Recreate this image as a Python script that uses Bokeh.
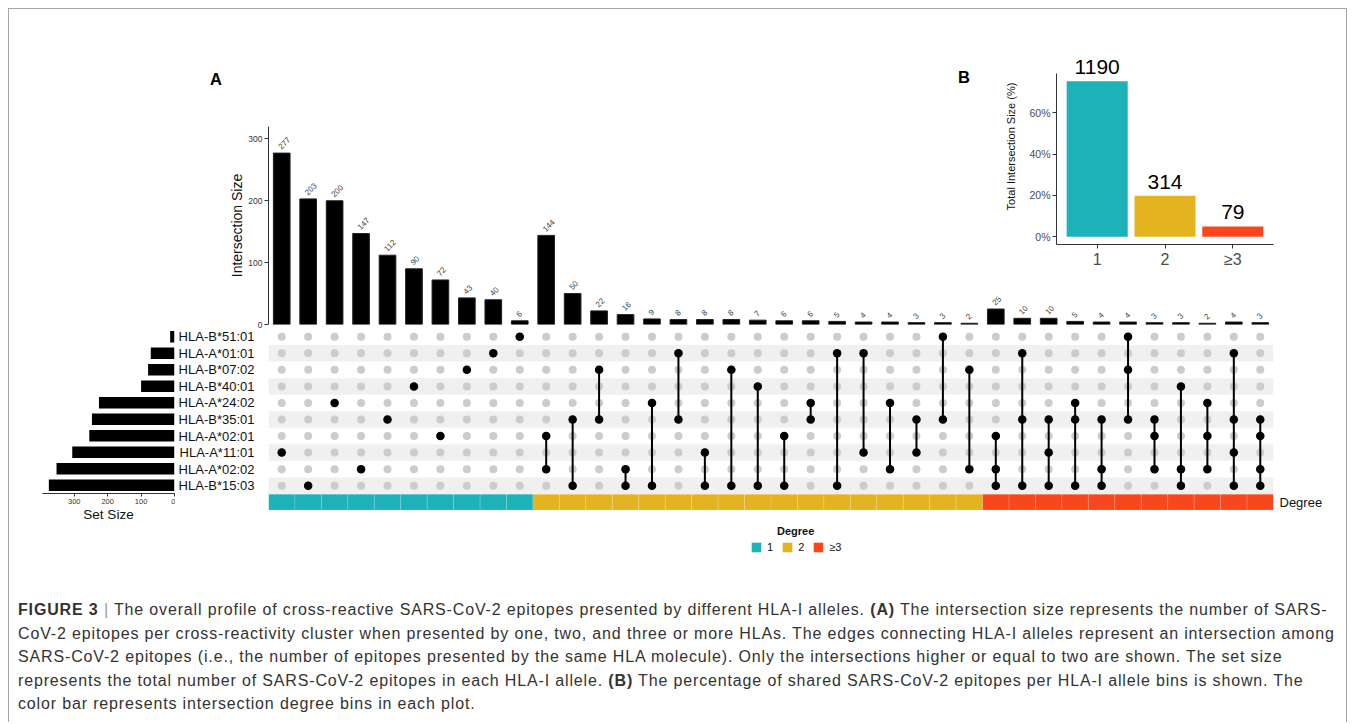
from bokeh.plotting import figure
from bokeh.models import (Range1d, FixedTicker, LinearAxis, LabelSet, ColumnDataSource,
                          Div, Legend, LegendItem, PrintfTickFormatter)
from bokeh.core.properties import value
from bokeh.embed import file_html
from bokeh.resources import INLINE

FONT = "Liberation Sans"

# ---------------- data ----------------
sets = ["HLA-B*51:01", "HLA-A*01:01", "HLA-B*07:02", "HLA-B*40:01", "HLA-A*24:02",
        "HLA-B*35:01", "HLA-A*02:01", "HLA-A*11:01", "HLA-A*02:02", "HLA-B*15:03"]
set_sizes = [13, 71, 79, 100, 226, 247, 255, 306, 353, 376]

intersection_sizes = [277, 203, 200, 147, 112, 90, 72, 43, 40, 6,
                      144, 50, 22, 16, 9, 8, 8, 8, 7, 6, 6, 5, 4, 4, 3, 3, 2,
                      25, 10, 10, 5, 4, 4, 3, 3, 2, 4, 3]
intersection_members = [
    ["HLA-A*11:01"], ["HLA-B*15:03"], ["HLA-A*24:02"], ["HLA-A*02:02"], ["HLA-B*35:01"],
    ["HLA-B*40:01"], ["HLA-A*02:01"], ["HLA-B*07:02"], ["HLA-A*01:01"], ["HLA-B*51:01"],
    ["HLA-A*02:01", "HLA-A*02:02"],
    ["HLA-B*35:01", "HLA-B*15:03"],
    ["HLA-B*07:02", "HLA-B*35:01"],
    ["HLA-A*02:02", "HLA-B*15:03"],
    ["HLA-A*24:02", "HLA-B*15:03"],
    ["HLA-A*01:01", "HLA-B*35:01"],
    ["HLA-A*11:01", "HLA-B*15:03"],
    ["HLA-B*07:02", "HLA-B*15:03"],
    ["HLA-B*40:01", "HLA-B*15:03"],
    ["HLA-A*02:01", "HLA-B*15:03"],
    ["HLA-A*24:02", "HLA-B*35:01"],
    ["HLA-A*01:01", "HLA-B*15:03"],
    ["HLA-A*01:01", "HLA-A*11:01"],
    ["HLA-A*24:02", "HLA-A*02:02"],
    ["HLA-B*35:01", "HLA-A*11:01"],
    ["HLA-B*51:01", "HLA-B*35:01"],
    ["HLA-B*07:02", "HLA-A*02:02"],
    ["HLA-A*02:01", "HLA-A*02:02", "HLA-B*15:03"],
    ["HLA-A*01:01", "HLA-B*35:01", "HLA-B*15:03"],
    ["HLA-B*35:01", "HLA-A*11:01", "HLA-B*15:03"],
    ["HLA-A*24:02", "HLA-B*35:01", "HLA-B*15:03"],
    ["HLA-B*35:01", "HLA-A*02:02", "HLA-B*15:03"],
    ["HLA-B*51:01", "HLA-B*07:02", "HLA-B*35:01"],
    ["HLA-B*35:01", "HLA-A*02:01", "HLA-A*02:02"],
    ["HLA-B*40:01", "HLA-A*02:02", "HLA-B*15:03"],
    ["HLA-A*24:02", "HLA-A*02:01", "HLA-A*02:02"],
    ["HLA-A*01:01", "HLA-B*35:01", "HLA-A*11:01", "HLA-B*15:03"],
    ["HLA-B*35:01", "HLA-A*02:01", "HLA-A*02:02", "HLA-B*15:03"],
]
degree_bins = ["1", "2", "≥3"]
degree_totals = [1190, 314, 79]
degree_colors = ["#1DB1B8", "#E3B41F", "#F8471C"]

caption_lines = [
    "<b>FIGURE 3</b> <span style='color:#9a9a9a'>|</span> The overall profile of cross-reactive SARS-CoV-2 epitopes presented by different HLA-I alleles. <b>(A)</b> The intersection size represents the number of SARS-",
    "CoV-2 epitopes per cross-reactivity cluster when presented by one, two, and three or more HLAs. The edges connecting HLA-I alleles represent an intersection among",
    "SARS-CoV-2 epitopes (i.e., the number of epitopes presented by the same HLA molecule). Only the intersections higher or equal to two are shown. The set size",
    "represents the total number of SARS-CoV-2 epitopes in each HLA-I allele. <b>(B)</b> The percentage of shared SARS-CoV-2 epitopes per HLA-I allele bins is shown. The",
    "color bar represents intersection degree bins in each plot.",
]

# ---------------- derived ----------------
n = len(intersection_sizes)
xs = list(range(1, n + 1))
row_pos = [-i for i in range(len(sets))]
row_of = dict(zip(sets, row_pos))
deg_idx = [min(len(m), 3) - 1 for m in intersection_members]
col_colors = [degree_colors[d] for d in deg_idx]


def place(model, x, y, extra=None):
    st = {"position": "absolute", "left": f"{x}px", "top": f"{y}px"}
    if extra:
        st.update(extra)
    model.styles = st
    model.margin = 0
    return model


def bare(p):
    p.xgrid.visible = False
    p.ygrid.visible = False
    p.outline_line_color = None
    p.background_fill_color = None
    p.border_fill_color = None


# ---------------- frame border ----------------
border = place(Div(text="", width=1339, height=714), 8, 8,
               {"border": "1px solid #a6a6a6", "border-bottom": "none", "box-sizing": "border-box"})

# ---------------- intersection size bars ----------------
x_range = Range1d(0.5, n + 0.5)
pb = figure(width=93 + 1005 + 10, height=16 + 198 + 8, x_range=x_range, y_range=Range1d(0, 320),
            toolbar_location=None, output_backend="svg", x_axis_location=None, y_axis_location="left",
            min_border_left=93, min_border_right=10, min_border_top=16, min_border_bottom=8)
bare(pb)
bsrc = ColumnDataSource(dict(x=xs, top=intersection_sizes, label=[str(v) for v in intersection_sizes]))
pb.vbar(x="x", top="top", width=0.63, source=bsrc, fill_color="black", line_color="#222222")
pb.add_layout(LabelSet(x="x", y="top", text="label", source=bsrc, angle=45, angle_units="deg",
                       text_font=value(FONT), text_font_size="8px", text_color="#444444",
                       text_align="left", text_baseline="middle", x_offset=-2, y_offset=5))
ax = pb.yaxis[0]
ax.ticker = FixedTicker(ticks=[0, 100, 200, 300])
ax.axis_label = "Intersection Size"
ax.axis_label_text_font = FONT
ax.axis_label_text_font_style = "normal"
ax.axis_label_text_font_size = "14px"
ax.axis_label_text_color = "#111111"
ax.axis_label_standoff = 0
ax.major_label_text_font = FONT
ax.major_label_text_font_size = "8.5px"
ax.major_label_text_color = "#333333"
ax.major_label_standoff = 2
ax.major_tick_out = 4
ax.major_tick_in = 0
ax.minor_tick_line_color = None
ax.axis_line_color = "#333333"
ax.major_tick_line_color = "#333333"
place(pb, 175, 110)

# ---------------- matrix ----------------
pm = figure(width=93 + 1005 + 60, height=182, x_range=x_range, y_range=Range1d(-10.5, 0.5),
            toolbar_location=None, output_backend="svg", x_axis_location=None, y_axis_location=None,
            min_border_left=93, min_border_right=60, min_border_top=0, min_border_bottom=0)
bare(pm)
stripe_rows = [r for i, r in enumerate(row_pos) if i % 2 == 1]
pm.hbar(y=stripe_rows, left=0.5, right=n + 0.5, height=1.0, fill_color="#f0f0f0", line_color=None)
gx = [x for x in xs for _ in row_pos]
gy = [r for _ in xs for r in row_pos]
pm.scatter(gx, gy, size=8, fill_color="#cccccc", line_color=None)
seg_x, seg_y0, seg_y1 = [], [], []
dot_x, dot_y = [], []
for x, mem in zip(xs, intersection_members):
    ys = [row_of[m] for m in mem]
    dot_x += [x] * len(ys)
    dot_y += ys
    if len(ys) > 1:
        seg_x.append(x)
        seg_y0.append(min(ys))
        seg_y1.append(max(ys))
pm.segment(x0=seg_x, y0=seg_y0, x1=seg_x, y1=seg_y1, line_color="black", line_width=2)
pm.scatter(dot_x, dot_y, size=8.5, fill_color="black", line_color=None)
pm.rect(x=xs, y=-10, width=1, height=0.96, fill_color=col_colors, line_color="white", line_alpha=0.15)

yl = LinearAxis(ticker=FixedTicker(ticks=row_pos),
                major_label_overrides={r: s for r, s in zip(row_pos, sets)})
yr = LinearAxis(ticker=FixedTicker(ticks=[-10]), major_label_overrides={-10: "Degree"})
for a, so in ((yl, 8), (yr, 0)):
    a.axis_line_color = None
    a.major_tick_line_color = None
    a.minor_tick_line_color = None
    a.major_label_text_font = FONT
    a.major_label_text_font_size = "13px"
    a.major_label_text_color = "#111111"
    a.major_label_standoff = so
pm.add_layout(yl, "left")
pm.add_layout(yr, "right")
place(pm, 175, 328)

# ---------------- set size ----------------
ps = figure(width=30 + 132 + 1, height=165 + 40, x_range=Range1d(395, 0), y_range=Range1d(-9.5, 0.5),
            toolbar_location=None, output_backend="svg", x_axis_location="below", y_axis_location=None,
            min_border_left=30, min_border_right=1, min_border_top=0, min_border_bottom=40)
bare(ps)
ps.hbar(y=row_pos, left=0, right=set_sizes, height=0.7, fill_color="black", line_color=None)
sx = ps.xaxis[0]
sx.ticker = FixedTicker(ticks=[0, 100, 200, 300])
sx.axis_label = "Set Size"
sx.axis_label_text_font = FONT
sx.axis_label_text_font_style = "normal"
sx.axis_label_text_font_size = "13.5px"
sx.axis_label_text_color = "#111111"
sx.axis_label_standoff = 0
sx.major_label_text_font = FONT
sx.major_label_text_font_size = "7.5px"
sx.major_label_text_color = "#333333"
sx.major_label_standoff = 2
sx.major_tick_out = 3
sx.major_tick_in = 0
sx.minor_tick_line_color = None
sx.axis_line_color = "#333333"
sx.major_tick_line_color = "#333333"
place(ps, 12, 328)

# ---------------- panel B ----------------
pct = [t / sum(degree_totals) * 100 for t in degree_totals]
bx = list(range(1, len(degree_bins) + 1))
psrc = ColumnDataSource(dict(x=bx, top=pct, color=degree_colors, label=[str(t) for t in degree_totals]))
y_lo, y_hi = -3.76, 78.93          # axis extent (ggplot-like expansion)
px_per_unit = 171 / (y_hi - y_lo)
frame_h = 196                      # frame extends above the axis so value labels are not clipped
pp = figure(width=61 + 217 + 10, height=frame_h + 32, x_range=Range1d(0.4, 3.6),
            y_range=Range1d(y_lo, y_lo + frame_h / px_per_unit),
            toolbar_location=None, output_backend="svg",
            min_border_left=61, min_border_right=10, min_border_top=0, min_border_bottom=32)
bare(pp)
pp.vbar(x="x", top="top", width=0.9, source=psrc, fill_color="color", line_color=None)
pp.add_layout(LabelSet(x="x", y="top", text="label", source=psrc, text_font=value(FONT), text_font_size="21px",
                       text_color="black", text_align="center", text_baseline="bottom", y_offset=7))
a = pp.yaxis[0]
a.bounds = (y_lo, y_hi)
a.ticker = FixedTicker(ticks=[0, 20, 40, 60])
a.formatter = PrintfTickFormatter(format="%d%%")
a.axis_label = "Total Intersection Size (%)"
a.axis_label_text_font_size = "11px"
a.axis_label_standoff = 9
a.major_label_text_font_size = "10.5px"
b = pp.xaxis[0]
b.ticker = FixedTicker(ticks=bx)
b.major_label_overrides = {x: lab for x, lab in zip(bx, degree_bins)}
b.major_label_text_font_size = "16px"
for a_ in (a, b):
    a_.axis_label_text_font = FONT
    a_.axis_label_text_font_style = "normal"
    a_.axis_label_text_color = "#111111"
    a_.major_label_text_font = FONT
    a_.major_label_text_color = "#4d4d4d"
    a_.major_label_standoff = 2
    a_.major_tick_out = 4
    a_.major_tick_in = 0
    a_.minor_tick_line_color = None
    a_.axis_line_color = "#333333"
    a_.major_tick_line_color = "#333333"
place(pp, 995, 48)

# ---------------- legend ----------------
pl = figure(width=100, height=14, x_range=Range1d(10, 11), y_range=Range1d(10, 11),
            toolbar_location=None, output_backend="svg", x_axis_location=None, y_axis_location=None,
            min_border=0)
bare(pl)
r_leg = pl.rect(x="x", y="top", width=1, height=1, source=psrc, fill_color="color", line_color=None)
items = [LegendItem(label=lab, renderers=[r_leg], index=i) for i, lab in enumerate(degree_bins)]
leg = Legend(items=items, orientation="horizontal", location="top_left", padding=0, margin=0,
             spacing=8, glyph_width=12, glyph_height=12, label_standoff=5, label_width=0, label_height=12,
             label_text_font=FONT, label_text_font_size="11px", label_text_color="#111111",
             border_line_color=None, background_fill_alpha=0)
pl.add_layout(leg)
place(pl, 750, 541)

legend_title = place(Div(text="<div style=\"font:bold 11px 'Liberation Sans';line-height:14px;color:#111\">Degree</div>",
                         width=60, height=14), 777, 523)

label_a = place(Div(text="<div style=\"font:bold 16.5px 'Liberation Sans';line-height:20px;color:#000\">A</div>",
                    width=20, height=20), 210, 69)
label_b = place(Div(text="<div style=\"font:bold 16.5px 'Liberation Sans';line-height:20px;color:#000\">B</div>",
                    width=20, height=20), 958, 67)

caption = place(Div(text="<div style=\"font-family:'Liberation Sans';font-size:16px;letter-spacing:0.85px;line-height:23.5px;color:#333;white-space:nowrap\">"
                         + "<br>".join(caption_lines) + "</div>",
                    width=1325, height=118), 18, 598)

roots = [border, pb, pm, ps, pp, pl, legend_title, label_a, label_b, caption]
open("out.html", "w").write(file_html(roots, INLINE))
